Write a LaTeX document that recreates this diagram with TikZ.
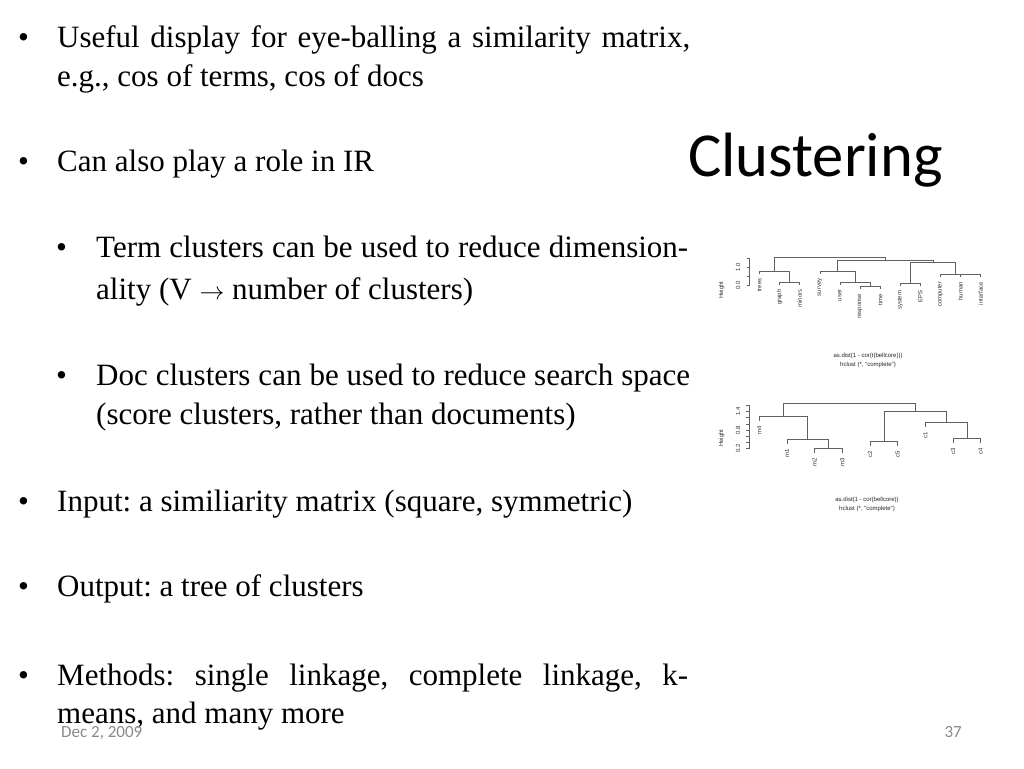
\documentclass[tikz,border=0pt]{standalone}
\usepackage{fontspec}
\setmainfont{Liberation Serif}
\newfontfamily\calfont{Carlito}
\newfontfamily\helv{Liberation Sans}
\definecolor{footgray}{HTML}{898989}
\frenchspacing
\begin{document}
\begin{tikzpicture}[x=1pt,y=-1pt]
\tikzset{
  body/.style={anchor=base west, inner sep=0pt, font=\fontsize{31}{31}\selectfont},
  dend/.style={draw=black!62, line width=0.55pt},
  leaflab/.style={rotate=90, anchor=east, inner sep=0pt, font=\helv\fontsize{6}{6}\selectfont, text=black!80},
  ticklab/.style={rotate=90, anchor=center, inner sep=0pt, font=\helv\fontsize{6}{6}\selectfont, text=black!80},
  caplab/.style={anchor=base, inner sep=0pt, font=\helv\fontsize{6}{6}\selectfont, text=black!85},
  foot/.style={inner sep=0pt, font=\calfont\fontsize{17}{17}\selectfont, text=footgray}
}
\fill[white] (0,0) rectangle (1024,768);
\useasboundingbox (0,0) rectangle (1024,768);

% bullets and text
\node[body] (b1) at (18,47.5) {\textbullet};
\node[body] (t1) at (57,47.5) {\makebox[633pt][s]{Useful display for eye-balling a similarity matrix,}};
\node[body] (t2) at (57,86) {e.g., cos of terms, cos of docs};
\node[body] (b3) at (18,171) {\textbullet};
\node[body] (t3) at (57,171) {Can also play a role in IR};
\node[body] (b4) at (56,257) {\textbullet};
\node[body] (t4) at (96,257) {\makebox[592pt][s]{Term clusters can be used to reduce dimension-}};
\node[body] (t5) at (96,299) {ality (V $\rightarrow$ number of clusters)};
\node[body] (b6) at (56,385) {\textbullet};
\node[body] (t6) at (96,385) {\makebox[594pt][s]{Doc clusters can be used to reduce search space}};
\node[body] (t7) at (96,424) {(score clusters, rather than documents)};
\node[body] (b8) at (18,511) {\textbullet};
\node[body] (t8) at (57,511) {Input: a similiarity matrix (square, symmetric)};
\node[body] (b9) at (18,596) {\textbullet};
\node[body] (t9) at (57,596) {Output: a tree of clusters};
\node[body] (b10) at (18,685) {\textbullet};
\node[body] (t10) at (57,685) {\makebox[631pt][s]{Methods: single linkage, complete linkage, k-}};
\node[body] (t11) at (57,723) {means, and many more};

% title
\node[anchor=base west, inner sep=0pt, font=\calfont\fontsize{62.6}{62.6}\selectfont] (title) at (688,176.7) {Clustering};

% footer
\node[foot, anchor=base west] (date) at (61,737.7) {Dec 2, 2009};
\node[foot, anchor=base east] (page) at (962,737.7) {37};

% ---------- top dendrogram ----------
\draw[dend] (749.5,257.8) -- (749.5,285.5);
\foreach \t in {257.8,267,276.2,285.5} \draw[dend] (749.5,\t) -- (746.5,\t);
\node[ticklab] (ta1) at (738,267) {1.0};
\node[ticklab] (ta0) at (738,285.5) {0.0};
\node[ticklab] (th) at (721.5,290) {Height};

\draw[dend] (779.6,284.8)--(779.6,282)--(799.7,282)--(799.7,284.8);
\draw[dend] (759.5,273.8)--(759.5,271)--(789.65,271)--(789.65,282);
\draw[dend] (860,289.1)--(860,286.3)--(880.1,286.3)--(880.1,289.1);
\draw[dend] (839.9,284.8)--(839.9,282)--(870.05,282)--(870.05,286.3);
\draw[dend] (819.8,273.8)--(819.8,271)--(854.98,271)--(854.98,282);
\draw[dend] (900.2,286.1)--(900.2,283.3)--(920.3,283.3)--(920.3,286.1);
\draw[dend] (960.5,277.4)--(960.5,274.6)--(980.6,274.6)--(980.6,277.4);
\draw[dend] (940.4,277.1)--(940.4,274.3)--(970.55,274.3)--(970.55,274.6);
\draw[dend] (910.25,283.3)--(910.25,262)--(955.48,262)--(955.48,274.3);
\draw[dend] (837.39,271)--(837.39,260)--(932.86,260)--(932.86,262);
\draw[dend] (774.58,271)--(774.58,257.5)--(885.13,257.5)--(885.13,260);

\node[leaflab] (l1) at (759.5,278.3) {trees};
\node[leaflab] (l2) at (779.6,289.3) {graph};
\node[leaflab] (l3) at (799.7,289.3) {minors};
\node[leaflab] (l4) at (819.8,278.3) {survey};
\node[leaflab] (l5) at (839.9,289.3) {user};
\node[leaflab] (l6) at (860,293.6) {response};
\node[leaflab] (l7) at (880.1,293.6) {time};
\node[leaflab] (l8) at (900.2,290.6) {system};
\node[leaflab] (l9) at (920.3,290.6) {EPS};
\node[leaflab] (l10) at (940.4,281.6) {computer};
\node[leaflab] (l11) at (960.5,281.9) {human};
\node[leaflab] (l12) at (980.6,281.9) {interface};

\node[caplab] (c1a) at (868,357.5) {as.dist(1 - cor(t(bellcore)))};
\node[caplab] (c1b) at (868,366.5) {hclust (*, "complete")};

% ---------- bottom dendrogram ----------
\draw[dend] (749.3,405.3) -- (749.3,448.7);
\foreach \t in {448.7,442.5,436.3,430.1,423.9,417.7,411.5,405.3} \draw[dend] (749.3,\t) -- (746.3,\t);
\node[ticklab] (tb2) at (738,448.7) {0.2};
\node[ticklab] (tb8) at (738,430.1) {0.8};
\node[ticklab] (tb14) at (738,411.5) {1.4};
\node[ticklab] (tbh) at (721.5,438.3) {Height};

\draw[dend] (814.6,452.8)--(814.6,448.3)--(842.3,448.3)--(842.3,452.8);
\draw[dend] (787,443.8)--(787,439.3)--(828.45,439.3)--(828.45,448.3);
\draw[dend] (759.3,421.2)--(759.3,416.7)--(807.73,416.7)--(807.73,439.3);
\draw[dend] (870,446.2)--(870,441.7)--(897.6,441.7)--(897.6,446.2);
\draw[dend] (953,442.8)--(953,438.3)--(980.6,438.3)--(980.6,442.8);
\draw[dend] (925.3,426.8)--(925.3,422.3)--(966.8,422.3)--(966.8,438.3);
\draw[dend] (883.8,441.7)--(883.8,411)--(946.05,411)--(946.05,422.3);
\draw[dend] (783.5,416.7)--(783.5,403.3)--(914.93,403.3)--(914.93,411);

\node[leaflab] (m4) at (759.3,426) {m4};
\node[leaflab] (m1) at (787,448.6) {m1};
\node[leaflab] (m2) at (814.6,457.6) {m2};
\node[leaflab] (m3) at (842.3,457.6) {m3};
\node[leaflab] (c2) at (870,451) {c2};
\node[leaflab] (c5) at (897.6,451) {c5};
\node[leaflab] (c1) at (925.3,431.6) {c1};
\node[leaflab] (c3) at (953,447.6) {c3};
\node[leaflab] (c4) at (980.6,447.6) {c4};

\node[caplab] (c2a) at (867,501.5) {as.dist(1 - cor(bellcore))};
\node[caplab] (c2b) at (867,510) {hclust (*, "complete")};
\end{tikzpicture}
\end{document}
